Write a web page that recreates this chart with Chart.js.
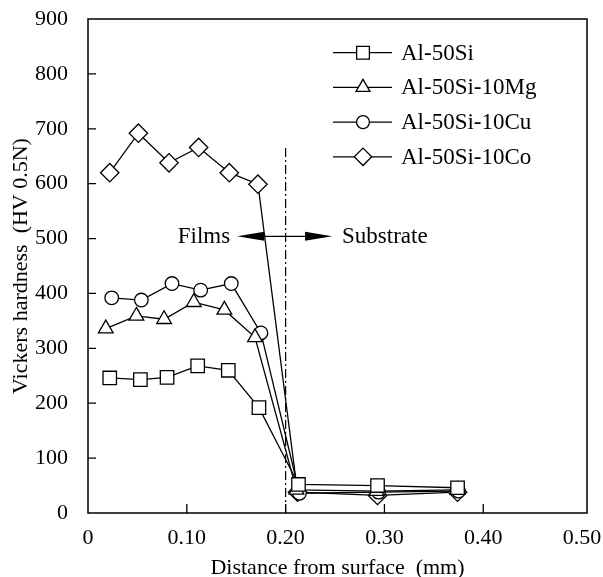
<!DOCTYPE html>
<html>
<head>
<meta charset="utf-8">
<script src="https://cdn.jsdelivr.net/npm/chart.js@4.4.1/dist/chart.umd.min.js"></script>
<style>
html,body{margin:0;padding:0;background:#fff;}
canvas{display:block;}
</style>
</head>
<body>
<canvas id="c" width="603" height="577"></canvas>
<script>
const seriesNames = ['Al-50Si', 'Al-50Si-10Mg', 'Al-50Si-10Cu', 'Al-50Si-10Co'];
const xAl50Si = [0.022, 0.053, 0.080, 0.111, 0.142, 0.173, 0.213, 0.293, 0.374];
const yAl50Si = [246, 243, 247, 268, 260, 192, 52, 50, 46];
const xMg = [0.018, 0.049, 0.077, 0.107, 0.138, 0.169, 0.211, 0.292, 0.374];
const yMg = [336, 359, 353, 384, 370, 320, 42, 40, 42];
const xCu = [0.024, 0.054, 0.085, 0.114, 0.145, 0.175, 0.214, 0.294, 0.375];
const yCu = [392, 388, 418, 406, 418, 328, 36, 38, 40];
const xCo = [0.022, 0.051, 0.082, 0.112, 0.143, 0.172, 0.212, 0.293, 0.374];
const yCo = [620, 692, 638, 666, 620, 599, 38, 32, 38];
const xTicks = [0, 0.1, 0.2, 0.3, 0.4, 0.5];
const yTicks = [0, 100, 200, 300, 400, 500, 600, 700, 800, 900];
const xMax = 0.505;
const boundaryX = 0.20;
const boundaryTop = 665;
const arrowY = 504;
const arrowLeftX = 0.151;
const arrowRightX = 0.247;
const regionLabels = ['Films', 'Substrate'];
const xTitle = 'Distance from surface  (mm)';
const yTitle = 'Vickers hardness  (HV 0.5N)';

const FONT = "'Liberation Serif', 'DejaVu Serif', serif";
const styles = [
  {pointStyle: 'rect', radius: 9.5},
  {pointStyle: 'triangle', radius: 8.5},
  {pointStyle: 'circle', radius: 6.8},
  {pointStyle: 'rectRot', radius: 9.2}
];
const xs = [xAl50Si, xMg, xCu, xCo];
const ys = [yAl50Si, yMg, yCu, yCo];

const datasets = seriesNames.map((name, i) => ({
  label: name,
  data: xs[i].map((x, j) => ({x: x, y: ys[i][j]})),
  borderColor: '#000',
  borderWidth: 1.3,
  backgroundColor: '#fff',
  pointBackgroundColor: '#fff',
  pointBorderColor: '#000',
  pointBorderWidth: 1.3,
  pointStyle: styles[i].pointStyle,
  pointRadius: styles[i].radius,
  pointHoverRadius: styles[i].radius,
  showLine: true,
  tension: 0,
  fill: false
}));

const decor = {
  id: 'decor',
  afterDatasetsDraw(chart) {
    const ctx = chart.ctx;
    const xs_ = chart.scales.x, ys_ = chart.scales.y;
    ctx.save();
    // boundary dash-dot line
    ctx.strokeStyle = '#000';
    ctx.lineWidth = 1.2;
    ctx.setLineDash([9, 3, 2, 3]);
    const bx = xs_.getPixelForValue(boundaryX);
    ctx.beginPath();
    ctx.moveTo(bx, ys_.getPixelForValue(boundaryTop));
    ctx.lineTo(bx, ys_.getPixelForValue(0));
    ctx.stroke();
    ctx.setLineDash([]);
    // arrows
    const ay = ys_.getPixelForValue(arrowY);
    const lx = xs_.getPixelForValue(arrowLeftX);
    const rx = xs_.getPixelForValue(arrowRightX);
    ctx.lineWidth = 1.3;
    ctx.beginPath();
    ctx.moveTo(lx + 10, ay);
    ctx.lineTo(rx - 10, ay);
    ctx.stroke();
    ctx.fillStyle = '#000';
    ctx.beginPath();
    ctx.moveTo(lx, ay);
    ctx.lineTo(lx + 27, ay - 4.5);
    ctx.lineTo(lx + 27, ay + 4.5);
    ctx.closePath();
    ctx.fill();
    ctx.beginPath();
    ctx.moveTo(rx, ay);
    ctx.lineTo(rx - 27, ay - 4.5);
    ctx.lineTo(rx - 27, ay + 4.5);
    ctx.closePath();
    ctx.fill();
    ctx.font = '23px ' + FONT;
    ctx.textBaseline = 'middle';
    ctx.textAlign = 'right';
    ctx.fillText(regionLabels[0], lx - 7, ay + 1);
    ctx.textAlign = 'left';
    ctx.fillText(regionLabels[1], rx + 10, ay + 1);
    // legend
    const rowY0 = 52.7, rowDy = 34.7;
    chart.data.datasets.forEach((ds, i) => {
      const y = rowY0 + i * rowDy;
      ctx.strokeStyle = '#000';
      ctx.lineWidth = 1.3;
      ctx.beginPath();
      ctx.moveTo(333, y);
      ctx.lineTo(392, y);
      ctx.stroke();
      ctx.fillStyle = '#fff';
      Chart.helpers.drawPoint(ctx, {pointStyle: ds.pointStyle, radius: ds.pointRadius * 0.95, rotation: 0, borderWidth: 1.3}, 363, y);
      ctx.fillStyle = '#000';
      ctx.font = '23px ' + FONT;
      ctx.textAlign = 'left';
      ctx.textBaseline = 'middle';
      ctx.fillText(ds.label, 401, y + 1);
    });
    ctx.restore();
  },
  afterDraw(chart) {
    const ctx = chart.ctx;
    const a = chart.chartArea;
    const xs_ = chart.scales.x, ys_ = chart.scales.y;
    ctx.save();
    ctx.strokeStyle = '#000';
    ctx.lineWidth = 1.5;
    ctx.strokeRect(a.left, a.top, a.right - a.left, a.bottom - a.top);
    ctx.lineWidth = 1.3;
    ctx.beginPath();
    yTicks.forEach(v => {
      if (v === 0 || v === 900) return;
      const y = ys_.getPixelForValue(v);
      ctx.moveTo(a.left, y);
      ctx.lineTo(a.left + 8, y);
    });
    xTicks.forEach(v => {
      if (v === 0 || v === 0.5) return;
      const x = xs_.getPixelForValue(v);
      ctx.moveTo(x, a.bottom);
      ctx.lineTo(x, a.bottom - 9);
    });
    ctx.stroke();
    ctx.restore();
  }
};

new Chart(document.getElementById('c'), {
  type: 'scatter',
  data: {datasets: datasets},
  options: {
    responsive: false,
    animation: false,
    events: [],
    layout: {padding: {top: 19, right: 16, left: 0, bottom: 0}},
    plugins: {legend: {display: false}, tooltip: {enabled: false}},
    scales: {
      x: {
        type: 'linear', min: 0, max: xMax,
        afterBuildTicks: s => { s.ticks = xTicks.map(v => ({value: v})); },
        ticks: {
          color: '#000', font: {family: FONT, size: 22, lineHeight: 1.2}, padding: 4, maxRotation: 0,
          callback: v => (v === 0 ? '0' : Number(v).toFixed(2))
        },
        grid: {display: false},
        border: {display: false},
        title: {display: true, text: xTitle, color: '#000', font: {family: FONT, size: 22, lineHeight: 0.8}, padding: {top: 4, bottom: 0}},
        afterFit: s => { s.height = 64; s.paddingRight = 0; }
      },
      y: {
        type: 'linear', min: 0, max: 900,
        afterBuildTicks: s => { s.ticks = yTicks.map(v => ({value: v})); },
        ticks: {color: '#000', font: {family: FONT, size: 22}, padding: 12},
        grid: {display: false},
        border: {display: false},
        title: {display: true, text: yTitle, color: '#000', font: {family: FONT, size: 22}, padding: {top: 8, bottom: 0}},
        afterFit: s => { s.width = 88; s.paddingTop = 0; s.paddingBottom = 0; }
      }
    }
  },
  plugins: [decor]
});
</script>
</body>
</html>
